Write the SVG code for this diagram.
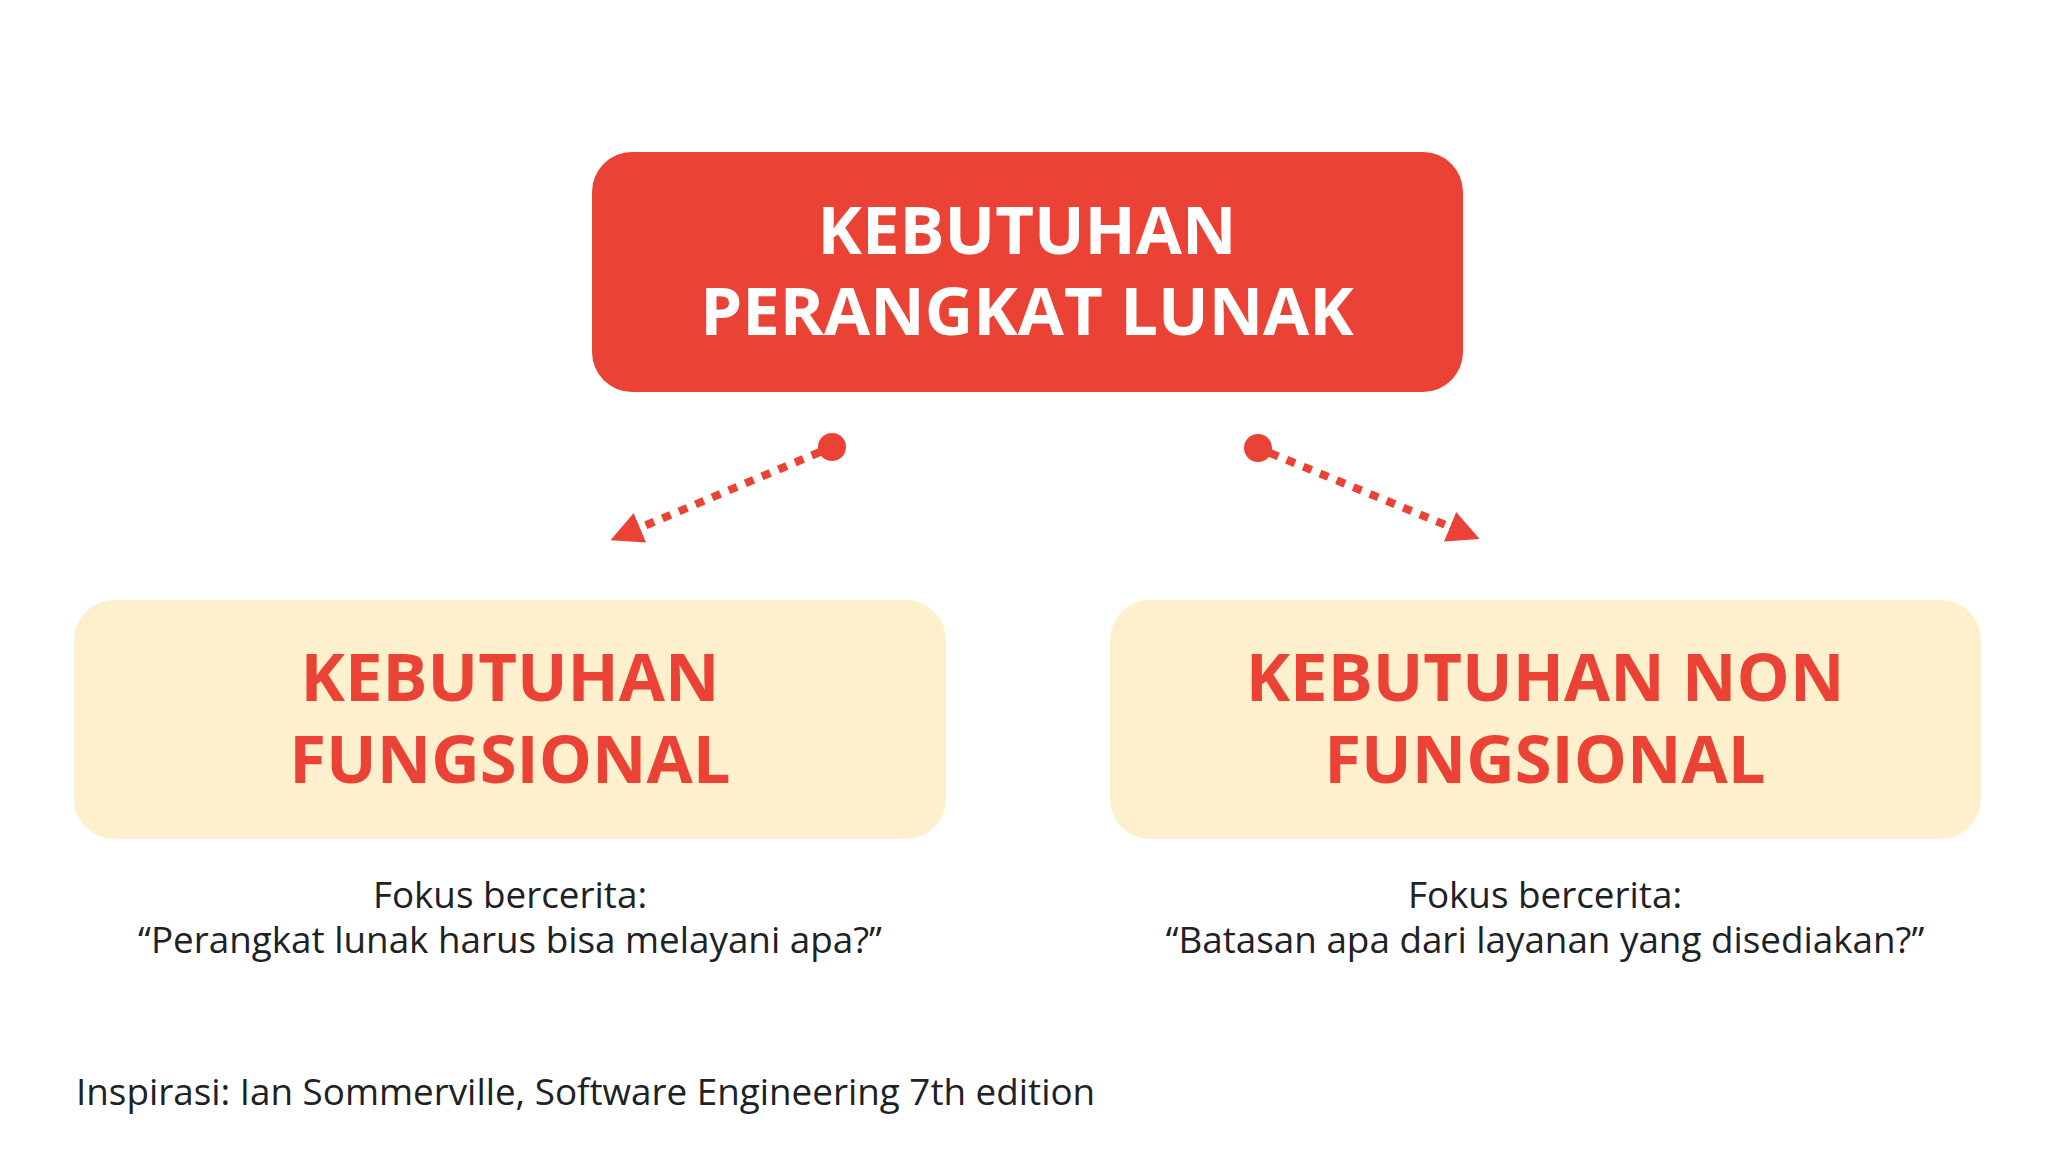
<svg xmlns="http://www.w3.org/2000/svg" width="2048" height="1152" viewBox="0 0 2048 1152">
<style>
.title{font-family:"Open Sans","Liberation Sans",sans-serif;font-weight:700;font-size:67px;text-anchor:middle}
.white{fill:#ffffff}
.red{fill:#EA4335}
.body{font-family:"Open Sans","Liberation Sans",sans-serif;font-size:36.8px;fill:#202124;text-anchor:middle}
.foot{font-family:"Open Sans","Liberation Sans",sans-serif;font-size:36.8px;fill:#202124}
.conn{stroke:#EA4335;stroke-width:8;stroke-dasharray:9 9;fill:none}
</style>
<defs>
<marker id="ah" viewBox="0 0 10 10" refX="1" refY="5" markerWidth="4" markerHeight="4" markerUnits="strokeWidth" orient="auto">
<path d="M0,0 L10,5 L0,10 Z" fill="#EA4335"/>
</marker>
</defs>
<rect width="2048" height="1152" fill="#ffffff"/>
<g id="node-root">
<rect x="592" y="152" width="871" height="240" rx="40" fill="#EA4335"/>
<text class="title white"><tspan x="1027" y="254">KEBUTUHAN</tspan><tspan x="1027" y="335">PERANGKAT LUNAK</tspan></text>
</g>
<g id="node-fungsional">
<rect x="74" y="600" width="872" height="239" rx="40" fill="#FEF0CC"/>
<text class="title red"><tspan x="510" y="701">KEBUTUHAN</tspan><tspan x="510" y="783">FUNGSIONAL</tspan></text>
<text class="body"><tspan x="510" y="908">Fokus bercerita:</tspan><tspan x="510" y="953">“Perangkat lunak harus bisa melayani apa?”</tspan></text>
</g>
<g id="node-nonfungsional">
<rect x="1110" y="600" width="871" height="239" rx="40" fill="#FEF0CC"/>
<text class="title red"><tspan x="1545" y="701">KEBUTUHAN NON</tspan><tspan x="1545" y="783">FUNGSIONAL</tspan></text>
<text class="body"><tspan x="1545" y="908">Fokus bercerita:</tspan><tspan x="1545" y="953">“Batasan apa dari layanan yang disediakan?”</tspan></text>
</g>
<g id="connectors">
<circle cx="832" cy="447" r="14" fill="#EA4335"/>
<line class="conn" x1="820" y1="452" x2="637" y2="529" marker-end="url(#ah)"/>
<circle cx="1258" cy="448" r="14" fill="#EA4335"/>
<line class="conn" x1="1270" y1="453" x2="1453" y2="528" marker-end="url(#ah)"/>
</g>
<g id="footer">
<text class="foot" x="76" y="1105">Inspirasi: Ian Sommerville, Software Engineering 7th edition</text>
</g>
</svg>
